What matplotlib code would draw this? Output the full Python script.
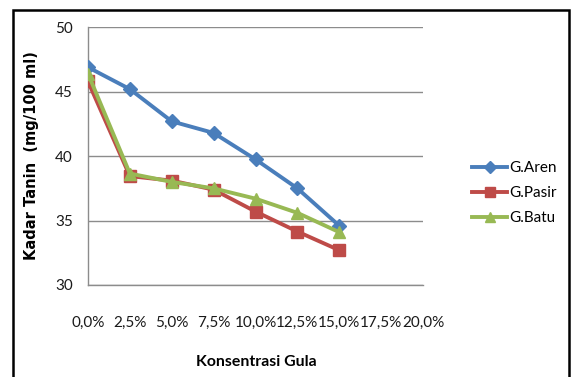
import matplotlib
matplotlib.use("Agg")
import matplotlib.pyplot as plt
from matplotlib.patches import Rectangle

# Sugar concentration categories (x axis)
categories = ["0,0%", "2,5%", "5,0%", "7,5%", "10,0%", "12,5%", "15,0%", "17,5%", "20,0%"]

# Tannin content (mg/100 ml) for each sugar type, measured at 0,0% .. 15,0%
g_aren = [46.9, 45.2, 42.7, 41.8, 39.75, 37.5, 34.6]
g_pasir = [45.8, 38.45, 38.1, 37.4, 35.7, 34.15, 32.7]
g_batu = [46.4, 38.65, 38.0, 37.5, 36.7, 35.6, 34.1]

series_names = ["G.Aren", "G.Pasir", "G.Batu"]
yticks = [30, 35, 40, 45, 50]

plt.rcParams["font.family"] = ["Lato", "DejaVu Sans"]

W, H = 571, 377
fig = plt.figure(figsize=(W / 100, H / 100), dpi=100)
fig.patch.set_facecolor("white")

# outer chart frame
fig.patches.append(Rectangle((13 / W, -0.05), 556 / W, 1.05 - 10 / H,
                             transform=fig.transFigure, fill=False,
                             edgecolor="black", linewidth=1.8, zorder=0))

ax = fig.add_axes([88 / W, 1 - 285 / H, (423 - 88) / W, (285 - 27.3) / H])

x = list(range(len(categories)))
styles = [
    (g_aren, "#4A7EBB", "D", 7.5),
    (g_pasir, "#BE4B48", "s", 8.5),
    (g_batu, "#98B954", "^", 9),
]
for (vals, color, marker, ms), name in zip(styles, series_names):
    ax.plot(x[:len(vals)], vals, color=color, linewidth=2.8, marker=marker,
            markersize=ms, markerfacecolor=color, markeredgecolor=color,
            label=name, solid_joinstyle="round", zorder=3)

ax.set_xlim(0, len(categories) - 1)
ax.set_ylim(30, 50)
ax.set_yticks(yticks)
ax.set_xticks(x)
ax.set_xticklabels(categories)
ax.grid(axis="y", color="#8C8C8C", linewidth=1.0)
ax.set_axisbelow(True)

for side in ["top", "right"]:
    ax.spines[side].set_visible(False)
for side in ["left", "bottom"]:
    ax.spines[side].set_color("#8C8C8C")
    ax.spines[side].set_linewidth(1.0)

ax.tick_params(axis="both", length=0, labelsize=11, colors="#1a1a1a")
ax.tick_params(axis="y", pad=11)
ax.tick_params(axis="x", pad=22)

ax.set_ylabel("Kadar Tanin  (mg/100 ml)", fontsize=10.5, fontweight="bold",
              family=["DejaVu Sans"])
ax.yaxis.set_label_coords(32 / W, 1 - 156 / H, transform=fig.transFigure)

ax.set_xlabel("Konsentrasi Gula", fontsize=11.4, fontweight="bold")
ax.xaxis.set_label_coords(256 / W, 1 - 362 / H, transform=fig.transFigure)
ax.xaxis.label.set_va("center")
ax.yaxis.label.set_ha("center")
ax.yaxis.label.set_va("center")

leg = ax.legend(loc="center left", bbox_to_anchor=(472 / W, 1 - 193 / H),
                bbox_transform=fig.transFigure, frameon=False,
                borderpad=0, borderaxespad=0, handlelength=2.3,
                handletextpad=0.15, labelspacing=0.72, fontsize=11)
for h in leg.legend_handles:
    h.set_markersize(6.5)

fig.savefig("out.png", dpi=100, facecolor="white")
